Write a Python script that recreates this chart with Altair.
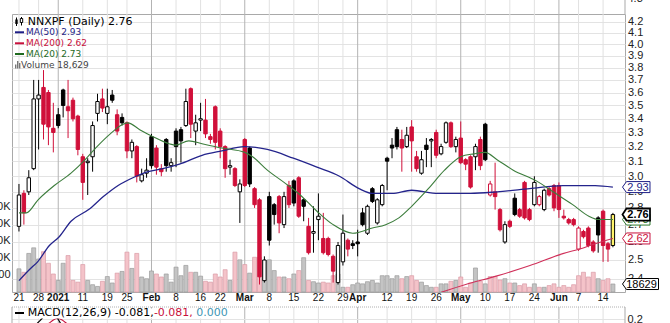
import altair as alt
import pandas as pd

# ---------------- values ----------------
opens = [2.69, 2.89, 2.90, 3.05, 3.55, 3.64, 3.60, 3.33, 3.43, 3.62,
         3.49, 3.54, 3.42, 3.13, 3.09, 3.13, 3.44, 3.55, 3.44, 3.58,
         3.43, 3.41, 3.37, 3.17, 3.20, 2.97, 3.02, 3.27, 3.19, 3.05,
         3.25, 3.07, 3.31, 3.32, 3.35, 3.63, 3.31, 3.39, 3.39, 3.27,
         3.49, 3.31, 3.20, 3.06, 3.05, 2.90, 3.25, 3.19, 2.92, 2.85,
         2.39, 2.87, 2.82, 2.87, 2.70, 2.94, 2.97, 2.99, 2.85, 2.69,
         2.65, 2.73, 2.62, 2.62, 2.52, 2.38, 2.49, 2.61, 2.59, 2.60,
         2.77, 2.65, 2.92, 2.71, 2.82, 3.12, 3.21, 3.32, 3.25, 3.20,
         3.34, 3.13, 3.02, 3.21, 3.24, 3.30, 3.15, 3.23, 3.37, 3.20,
         3.26, 3.11, 3.13, 3.13, 3.25, 3.36, 2.88, 2.90, 2.79, 2.60,
         2.72, 2.86, 2.79, 2.96, 2.79, 2.82, 2.82, 2.79, 2.92, 2.94,
         2.94, 2.75, 2.73, 2.73, 2.56, 2.66, 2.68, 2.60, 2.74, 2.78,
         2.59, 2.58]
highs = [2.95, 2.91, 3.04, 3.70, 3.70, 3.78, 3.62, 3.52, 3.48, 3.63,
         3.70, 3.56, 3.43, 3.15, 3.12, 3.38, 3.59, 3.63, 3.63, 3.62,
         3.47, 3.44, 3.38, 3.25, 3.21, 3.05, 3.12, 3.29, 3.21, 3.08,
         3.26, 3.12, 3.33, 3.34, 3.63, 3.64, 3.43, 3.52, 3.55, 3.29,
         3.50, 3.33, 3.21, 3.11, 3.06, 2.98, 3.26, 3.20, 2.93, 2.86,
         2.52, 2.90, 2.83, 2.88, 2.90, 2.97, 2.98, 3.00, 2.86, 2.74,
         2.81, 2.89, 2.77, 2.63, 2.53, 2.60, 2.76, 2.62, 2.61, 2.67,
         2.80, 2.82, 2.93, 2.86, 2.95, 3.13, 3.26, 3.34, 3.32, 3.34,
         3.39, 3.17, 3.17, 3.26, 3.26, 3.32, 3.22, 3.38, 3.38, 3.27,
         3.38, 3.12, 3.14, 3.22, 3.27, 3.37, 2.97, 3.09, 2.80, 2.72,
         2.73, 2.89, 2.80, 2.97, 2.80, 3.00, 2.88, 2.92, 2.93, 2.95,
         2.96, 2.79, 2.74, 2.74, 2.69, 2.67, 2.69, 2.61, 2.75, 2.79,
         2.60, 2.77]
lows = [2.66, 2.70, 2.88, 3.04, 3.18, 3.25, 3.21, 3.16, 3.33, 3.41,
        3.26, 3.38, 3.14, 2.85, 2.88, 3.03, 3.38, 3.45, 3.36, 3.52,
        3.28, 3.35, 3.12, 3.12, 2.96, 2.96, 2.99, 3.05, 3.01, 3.00,
        3.03, 3.03, 3.06, 3.09, 3.34, 3.26, 3.21, 3.31, 3.26, 3.22,
        3.18, 3.12, 2.99, 3.01, 2.93, 2.71, 2.93, 2.93, 2.80, 2.37,
        2.38, 2.58, 2.70, 2.65, 2.68, 2.80, 2.81, 2.74, 2.72, 2.53,
        2.54, 2.61, 2.53, 2.52, 2.38, 2.37, 2.47, 2.52, 2.56, 2.52,
        2.69, 2.64, 2.83, 2.70, 2.81, 2.91, 3.12, 3.18, 3.03, 3.19,
        3.03, 3.03, 3.01, 3.06, 3.06, 3.12, 3.14, 3.22, 3.19, 3.16,
        3.08, 3.04, 2.92, 3.04, 3.04, 3.10, 2.87, 2.79, 2.66, 2.59,
        2.68, 2.75, 2.74, 2.73, 2.72, 2.81, 2.81, 2.78, 2.87, 2.78,
        2.74, 2.73, 2.70, 2.69, 2.55, 2.62, 2.57, 2.54, 2.54, 2.49,
        2.49, 2.57]
closes = [2.88, 2.77, 2.99, 3.55, 3.58, 3.36, 3.34, 3.30, 3.35, 3.50,
          3.46, 3.40, 3.18, 2.96, 3.10, 3.35, 3.53, 3.48, 3.49, 3.54,
          3.31, 3.37, 3.17, 3.23, 3.00, 3.01, 3.04, 3.07, 3.06, 3.03,
          3.07, 3.09, 3.20, 3.24, 3.53, 3.36, 3.37, 3.40, 3.29, 3.25,
          3.23, 3.20, 3.05, 3.07, 2.94, 2.95, 2.94, 2.95, 2.82, 2.41,
          2.50, 2.61, 2.76, 2.71, 2.87, 2.82, 2.83, 2.75, 2.81, 2.54,
          2.66, 2.75, 2.54, 2.53, 2.44, 2.58, 2.65, 2.56, 2.58, 2.59,
          2.70, 2.81, 2.84, 2.85, 2.94, 3.10, 3.19, 3.20, 3.19, 3.28,
          3.24, 3.05, 3.11, 3.18, 3.25, 3.14, 3.20, 3.37, 3.20, 3.25,
          3.09, 3.08, 2.93, 3.20, 3.07, 3.11, 2.95, 2.87, 2.67, 2.70,
          2.69, 2.76, 2.75, 2.74, 2.73, 2.96, 2.87, 2.91, 2.88, 2.80,
          2.79, 2.74, 2.71, 2.70, 2.68, 2.63, 2.58, 2.55, 2.64, 2.58,
          2.56, 2.76]
volumes = [54000, 46000, 90000, 103000, 77000, 94000, 67000, 42000, 27000, 67000,
           85000, 27000, 23000, 64000, 27000, 17000, 13000, 25000, 36000, 21000,
           44000, 48000, 93000, 55000, 90000, 35000, 31000, 49000, 42000, 35000,
           42000, 23000, 58000, 38000, 62000, 46000, 46000, 37000, 25000, 23000,
           42000, 35000, 52000, 27000, 93000, 75000, 64000, 44000, 81000, 81000,
           73000, 75000, 50000, 35000, 35000, 31000, 42000, 50000, 80000, 27000,
           24000, 21000, 23000, 21000, 38000, 42000, 11000, 11000, 17000, 21000,
           19000, 24000, 27000, 21000, 38000, 38000, 31000, 38000, 31000, 36000,
           38000, 27000, 23000, 15000, 11000, 11000, 19000, 19000, 25000, 27000,
           35000, 11000, 21000, 56000, 25000, 19000, 36000, 36000, 28000, 31000,
           21000, 21000, 15000, 19000, 11000, 19000, 11000, 11000, 15000, 19000,
           11000, 15000, 11000, 17000, 38000, 46000, 35000, 46000, 31000, 27000,
           31000, 18629]

ma50_idx = [0, 2.2, 3.8, 6.2, 8.2, 10.6, 14.2, 17.2, 20.2, 23.2, 26.3, 29.3, 32.7, 37.3, 41.3,
            45.9, 50.6, 55.9, 60.7, 65.3, 69.3, 72, 76, 80, 85.4, 92, 97.4, 104, 110.8, 117.4, 121]
ma50_val = [2.39, 2.45, 2.49, 2.58, 2.63, 2.72, 2.79, 2.87, 2.94, 2.99, 3.03, 3.05, 3.08, 3.14, 3.17,
            3.20, 3.18, 3.12, 3.06, 3.00, 2.92, 2.89, 2.89, 2.91, 2.89, 2.89, 2.90, 2.92, 2.94, 2.94, 2.93]
ma20_idx = [0, 1.5, 3.9, 7.2, 10.6, 13.2, 15.9, 18.6, 21.2, 22.2, 24.6, 27.3, 30.6, 31.9, 34.6,
            37.3, 41.3, 46, 47.6, 50.6, 54, 57.3, 60.7, 64, 68, 72, 74.7, 77.4, 80, 83.4,
            86.7, 90, 92.7, 95, 97.4, 100.7, 105.4, 108.8, 112.8, 116.1, 118.1, 121]
ma20_val = [2.77, 2.77, 2.85, 2.94, 3.02, 3.10, 3.20, 3.29, 3.36, 3.37, 3.32, 3.27, 3.22, 3.21, 3.24,
            3.22, 3.19, 3.16, 3.13, 3.04, 2.96, 2.88, 2.78, 2.70, 2.65, 2.68, 2.70, 2.74, 2.81, 2.92,
            3.04, 3.13, 3.15, 3.16, 3.11, 3.04, 2.97, 2.90, 2.82, 2.75, 2.73, 2.73]
ma200_idx = [86.0, 91.0, 97.4, 104.1, 110.8, 114.8, 117.4, 121]
ma200_val = [2.33, 2.37, 2.415, 2.47, 2.535, 2.565, 2.59, 2.62]

macd_idx = [3.0, 3.8, 4.6, 5.5, 6.5, 7.3, 8.0, 8.6]
macd_val = [0.12, 0.165, 0.205, 0.25, 0.27, 0.25, 0.20, 0.15]
signal_idx = [5.5, 6.2, 7.0, 7.8, 8.8, 9.6, 10.5]
signal_val = [0.14, 0.165, 0.195, 0.21, 0.195, 0.165, 0.14]

tick_idx = [0, 4, 8, 13, 18, 22, 27, 32, 37, 41, 46, 51, 56, 61, 66, 69, 75, 80, 85, 90,
            95, 100, 105, 110, 114, 119]
tick_text = ["21", "28", "2021", "11", "19", "25", "Feb", "8", "16", "22", "Mar", "8", "15", "22",
             "29", "Apr", "12", "19", "26", "May", "10", "17", "24", "Jun", "7", "14"]
tick_month = ["2021", "Feb", "Mar", "Apr", "May", "Jun"]

price_ticks = [2.4, 2.5, 2.6, 2.7, 2.8, 2.9, 3.0, 3.1, 3.2, 3.3, 3.4, 3.5, 3.6, 3.7, 3.8, 3.9, 4.0, 4.1, 4.2]
vol_ticks = [40000, 80000, 120000, 160000, 200000]
vol_tick_text = ["40000", "80K", "120K", "160K", "200K"]
macd_ticks = [0.2]

title_text = "NNXPF (Daily) 2.76"
ma50_text = "MA(50) 2.93"
ma200_text = "MA(200) 2.62"
ma20_text = "MA(20) 2.73"
vol_text = "Volume 18,629"
macd_parts = ["MACD(12,26,9) -0.081,", " -0.081,", " 0.000"]

tag_vals = [2.93, 2.73, 2.62, 2.76]
tag_texts = ["2.93", "2.73", "2.62", "2.76"]
last_volume = 18629
top_cut_label = "4.3"

# ---------------- styling / layout ----------------
W, H = 613, 278
RED = "#d0103a"
NAVY = "#1e1e86"
GREEN = "#2f7a2f"
CRIMSON = "#c8103c"
TEAL = "#3d96b4"
SANS = "DejaVu Sans"
ARIAL = "Liberation Sans"

XS = alt.Scale(domain=[-0.4008, 122.445], nice=False, zero=False)
PS = alt.Scale(type="log", domain=[2.3317, 4.2710], nice=False)
VS = alt.Scale(domain=[0, 648400], nice=False, zero=True)
MS = alt.Scale(domain=[0.475, 3.255], nice=False, zero=False)


def X():
    return alt.X("i:Q", scale=XS, axis=None)


one = pd.DataFrame({"a": [0]})


def vrule(x, y1, y2, color, width=1.0, dash=None):
    kw = dict(color=color, strokeWidth=width)
    if dash:
        kw["strokeDash"] = dash
    return alt.Chart(one).mark_rule(**kw).encode(x=alt.value(x), y=alt.value(y1), y2=alt.value(y2))


def hrule(x1, x2, y, color, width=1.0, dash=None):
    kw = dict(color=color, strokeWidth=width)
    if dash:
        kw["strokeDash"] = dash
    return alt.Chart(one).mark_rule(**kw).encode(x=alt.value(x1), x2=alt.value(x2), y=alt.value(y))


def box(x1, x2, y1, y2, fill, stroke=None, sw=1.0):
    kw = dict(fill=fill)
    if stroke:
        kw["stroke"] = stroke
        kw["strokeWidth"] = sw
    return alt.Chart(one).mark_rect(**kw).encode(
        x=alt.value(x1), x2=alt.value(x2), y=alt.value(y1), y2=alt.value(y2))


def label(text, x, y, size, color, weight="normal", font=SANS, align="left", baseline="middle"):
    return alt.Chart(pd.DataFrame({"t": [text]})).mark_text(
        align=align, baseline=baseline, font=font, fontSize=size, color=color, fontWeight=weight
    ).encode(x=alt.value(x), y=alt.value(y), text="t:N")


n = len(closes)
dirs = ["up" if k == 0 or closes[k] >= closes[k - 1] else "down" for k in range(n)]
kinds = []
for k in range(n):
    if k == n - 1:
        kinds.append("last")
    else:
        kinds.append(dirs[k] + ("_hollow" if closes[k] > opens[k] else "_filled"))

df = pd.DataFrame({"i": list(range(n)), "o": opens, "h": highs, "l": lows, "c": closes,
                   "v": volumes, "dir": dirs, "kind": kinds})

tdf = pd.DataFrame({"i": tick_idx, "t": tick_text,
                    "kind": ["month" if t in tick_month else "week" for t in tick_text]})

layers = []

# vertical grid lines (price panel + strip above, and MACD panel)
grid_color = alt.Color("kind:N", scale=alt.Scale(domain=["week", "month"], range=["#e1e1e1", "#b3b3b3"]),
                       legend=None)
layers.append(alt.Chart(tdf).mark_rule(strokeWidth=1).encode(
    x=X(), y=alt.value(-14), y2=alt.value(H), color=grid_color))
layers.append(alt.Chart(tdf).mark_rule(strokeWidth=1).encode(
    x=X(), y=alt.value(293), y2=alt.value(312), color=grid_color))
layers.append(vrule(W, -14, 0, "#a9a9a9"))

# MACD panel
layers.append(alt.Chart(pd.DataFrame({"m": macd_ticks})).mark_rule(color="#e3e3e3", strokeWidth=1).encode(
    x=alt.value(0), x2=alt.value(W), y=alt.Y("m:Q", scale=MS, axis=None)))
layers.append(alt.Chart(pd.DataFrame({"i": signal_idx, "m": signal_val})).mark_line(
    color=CRIMSON, strokeWidth=1.2, interpolate="monotone").encode(x=X(), y=alt.Y("m:Q", scale=MS, axis=None)))
layers.append(alt.Chart(pd.DataFrame({"i": macd_idx, "m": macd_val})).mark_line(
    color="#000000", strokeWidth=1.2, interpolate="monotone").encode(x=X(), y=alt.Y("m:Q", scale=MS, axis=None)))
layers.append(box(14, 232, 294.5, 304.5, "#ffffff"))
layers.append(hrule(3, 12, 299, "#000000", 2))
seg_x = [15.7, 141.9, 184.3]
seg_c = ["#000000", CRIMSON, TEAL]
for s, x, c in zip(macd_parts, seg_x, seg_c):
    layers.append(label(s, x, 299, 11, c))
layers.append(hrule(0, W, 293, "#b0b0b0", 1, [1, 1]))
layers.append(vrule(W, 293, 312, "#a9a9a9"))
layers.append(vrule(0, 293, 312, "#a9a9a9"))
layers.append(alt.Chart(pd.DataFrame({"m": macd_ticks, "t": ["0.2"]})).mark_text(
    align="left", baseline="middle", font=ARIAL, fontSize=11, color="#222").encode(
    x=alt.value(615.5), y=alt.Y("m:Q", scale=MS, axis=None), text="t:N"))

# volume bars
vexpr = "''"
for v, t in reversed(list(zip(vol_ticks, vol_tick_text))):
    vexpr = f"datum.value == {v} ? '{t}' : ({vexpr})"
layers.append(alt.Chart(df).mark_bar(size=4, strokeWidth=0.7).encode(
    x=X(),
    y=alt.Y("v:Q", scale=VS, axis=alt.Axis(orient="left", values=vol_ticks, labelExpr=vexpr, grid=False,
                                            ticks=False, domain=False, labelPadding=2, labelFont=ARIAL,
                                            labelFontSize=11, labelColor="#222", title=None)),
    fill=alt.Fill("dir:N", scale=alt.Scale(domain=["up", "down"], range=["#c4c4c4", "#f4c3c9"]), legend=None),
    stroke=alt.Stroke("dir:N", scale=alt.Scale(domain=["up", "down"], range=["#9b9b9b", "#da9ba6"]),
                      legend=None)))

# candle wicks (carries the right price axis + horizontal grid)
layers.append(alt.Chart(df).mark_rule(strokeWidth=1).encode(
    x=X(),
    y=alt.Y("l:Q", scale=PS, axis=alt.Axis(orient="right", values=price_ticks, format=".1f", grid=True,
                                            gridColor="#e3e3e3", ticks=False, domain=False, labelPadding=2.5,
                                            labelFont=ARIAL, labelFontSize=11, labelColor="#222",
                                            title=None, labelOverlap=False)),
    y2="h:Q",
    color=alt.Color("dir:N", scale=alt.Scale(domain=["up", "down"], range=["#000000", RED]), legend=None)))

# candle bodies
KINDS = ["up_hollow", "up_filled", "down_hollow", "down_filled", "last"]
layers.append(alt.Chart(df).mark_bar(size=3.4, strokeWidth=1).encode(
    x=X(),
    y=alt.Y("o:Q", scale=PS, axis=None),
    y2="c:Q",
    fill=alt.Fill("kind:N", scale=alt.Scale(domain=KINDS, range=["#ffffff", "#000000", "#ffffff", RED, "#fff36a"]),
                  legend=None),
    stroke=alt.Stroke("kind:N", scale=alt.Scale(domain=KINDS, range=["#000000", "#000000", RED, RED, "#000000"]),
                      legend=None)))


def ma_line(idx, val, color, w):
    return alt.Chart(pd.DataFrame({"i": idx, "m": val})).mark_line(
        color=color, strokeWidth=w, interpolate="monotone", clip=True).encode(
        x=X(), y=alt.Y("m:Q", scale=PS, axis=None))


layers.append(ma_line(ma200_idx, ma200_val, "#d0305a", 1.1))
layers.append(ma_line(ma50_idx, ma50_val, "#24248c", 1.3))
layers.append(ma_line(ma20_idx, ma20_val, "#3c7d3c", 1.1))

# value tags on the right
P4 = "M-1,0L-0.709,-0.4L1,-0.4L1,0.4L-0.709,0.4Z"
P4B = "M-1,0L-0.709,-0.44L1,-0.44L1,0.44L-0.709,0.44Z"
P5 = "M-1,0L-0.778,-0.306L1,-0.306L1,0.306L-0.778,0.306Z"
tag_style = {"2.93": (NAVY, "normal", 1.0, P4), "2.73": (GREEN, "normal", 1.0, P4),
             "2.62": (CRIMSON, "normal", 1.0, P4), "2.76": ("#000000", "bold", 1.8, P4B)}
for val, txt in zip(tag_vals, tag_texts):
    col, wt, sw, path = tag_style[txt]
    d = pd.DataFrame({"m": [val], "t": [txt]})
    layers.append(alt.Chart(d).mark_point(shape=path, size=756, filled=True, fill="#ffffff", stroke=col,
                                          strokeWidth=sw, opacity=1).encode(
        x=alt.value(624.25), y=alt.Y("m:Q", scale=PS, axis=None)))
    layers.append(alt.Chart(d).mark_text(font=ARIAL, fontSize=11, fontWeight=wt, color=col, align="center",
                                         baseline="middle", dy=0.5).encode(
        x=alt.value(626), y=alt.Y("m:Q", scale=PS, axis=None), text="t:N"))
dv = pd.DataFrame({"v": [last_volume], "t": [str(last_volume)]})
layers.append(alt.Chart(dv).mark_point(shape=P5, size=1296, filled=True, fill="#ffffff", stroke="#000000",
                                       strokeWidth=1, opacity=1).encode(
    x=alt.value(628.5), y=alt.Y("v:Q", scale=VS, axis=None)))
layers.append(alt.Chart(dv).mark_text(font=ARIAL, fontSize=11, color="#000000", align="center",
                                      baseline="middle", dy=0.5).encode(
    x=alt.value(629.5), y=alt.Y("v:Q", scale=VS, axis=None), text="t:N"))

# date labels
layers.append(alt.Chart(tdf[tdf.kind == "week"]).mark_text(
    font=ARIAL, fontSize=10, color="#111", baseline="middle").encode(x=X(), y=alt.value(284), text="t:N"))
layers.append(alt.Chart(tdf[tdf.kind == "month"]).mark_text(
    font=ARIAL, fontSize=10, fontWeight="bold", color="#111", baseline="middle").encode(
    x=X(), y=alt.value(284), text="t:N"))

# legend block (top left)
layers.append(vrule(4.5, 3.5, 12, "#000000"))
layers.append(box(3.3, 5.7, 5.5, 10, "#000000"))
layers.append(vrule(9.5, 3, 11.5, "#000000"))
layers.append(box(8.3, 10.7, 4.5, 8.5, "#ffffff", "#000000", 1))
layers.append(label(title_text, 15.7, 7.7, 11, "#000000"))
layers.append(hrule(3, 12, 18.3, NAVY, 2))
layers.append(label(ma50_text, 14, 18.3, 9, NAVY))
layers.append(hrule(3, 12, 29.3, CRIMSON, 2))
layers.append(label(ma200_text, 14, 29.3, 9, CRIMSON))
layers.append(hrule(3, 12, 40, "#1e6a1e", 2))
layers.append(label(ma20_text, 14, 40, 9, "#1e6a1e"))
layers.append(box(3, 4.4, 50.5, 54.5, "#777777"))
layers.append(box(5, 6.4, 47, 54.5, "#777777"))
layers.append(box(7, 8.4, 49, 54.5, "#777777"))
layers.append(label(vol_text, 9, 50.5, 9, "#444444"))

# partially visible label of the panel above
layers.append(label(top_cut_label, 615.5, -12, 11, "#222", font=ARIAL, baseline="alphabetic"))

chart = alt.layer(*layers).resolve_scale(
    y="independent", fill="independent", stroke="independent", color="independent"
).properties(
    width=W, height=H,
    padding={"left": 12, "top": 14, "right": 45, "bottom": 31},
    autosize=alt.AutoSizeParams(type="none"),
    background="white",
).configure_view(stroke="#a9a9a9", strokeWidth=1)

chart.save("out.html", embed_options={"renderer": "svg", "actions": False})
